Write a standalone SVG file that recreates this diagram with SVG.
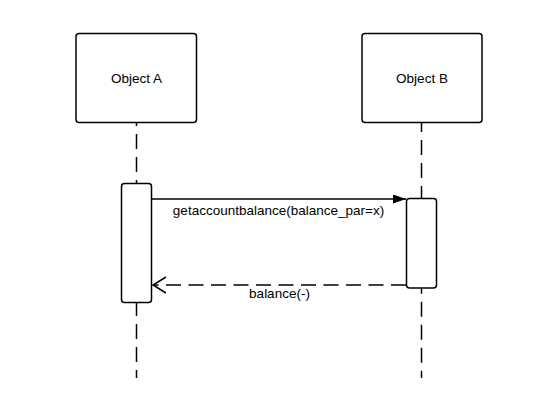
<svg xmlns="http://www.w3.org/2000/svg" width="555" height="412" viewBox="0 0 555 412">
<defs>
<style>
.box{fill:#fff;stroke:#000;stroke-width:1.5}
.life{stroke:#000;stroke-width:1.5;fill:none;stroke-dasharray:15 8}
.msg{stroke:#000;stroke-width:1.5;fill:none}
.lbl{font-family:"Liberation Sans",Arial,sans-serif;font-size:13.5px;fill:#000;text-anchor:middle}
</style>
<marker id="filled" viewBox="0 0 13 9" refX="13" refY="4.5" markerWidth="13" markerHeight="9" markerUnits="userSpaceOnUse" orient="auto">
<path d="M0,0 L13,4.5 L0,9 Z" fill="#000"/>
</marker>
<marker id="open" viewBox="0 0 14 18" refX="13" refY="9" markerWidth="14" markerHeight="18" markerUnits="userSpaceOnUse" orient="auto">
<path d="M0,1 L13,9 L0,17" fill="none" stroke="#000" stroke-width="1.5"/>
</marker>
</defs>
<rect width="555" height="412" fill="#fff"/>
<g id="lifelines">
<line class="life" x1="136.5" y1="122.5" x2="136.5" y2="183" stroke-dashoffset="11.5"/>
<line class="life" x1="136.5" y1="303" x2="136.5" y2="378" stroke-dashoffset="2"/>
<line class="life" x1="421.5" y1="122.5" x2="421.5" y2="198" stroke-dashoffset="5.5"/>
<line class="life" x1="421.5" y1="288" x2="421.5" y2="378" stroke-dashoffset="9.3"/>
</g>
<g id="objectA">
<rect class="box" x="76" y="33.5" width="120.5" height="89" rx="3"/>
<text class="lbl" x="136.5" y="83">Object A</text>
</g>
<g id="objectB">
<rect class="box" x="362" y="33.5" width="120" height="89" rx="3"/>
<text class="lbl" x="422" y="83">Object B</text>
</g>
<g id="activationA">
<rect class="box" x="121.5" y="183.5" width="30" height="119" rx="3"/>
</g>
<g id="activationB">
<rect class="box" x="406.5" y="198.5" width="30" height="89.5" rx="3"/>
</g>
<g id="connectors">
<line class="msg" x1="151.5" y1="199" x2="406" y2="199" marker-end="url(#filled)"/>
<line class="msg" x1="406" y1="285" x2="153" y2="285" stroke-dasharray="15 7.5" marker-end="url(#open)"/>
<text class="lbl" x="278.5" y="215">getaccountbalance(balance_par=x)</text>
<text class="lbl" x="279.5" y="298">balance(-)</text>
</g>
</svg>
